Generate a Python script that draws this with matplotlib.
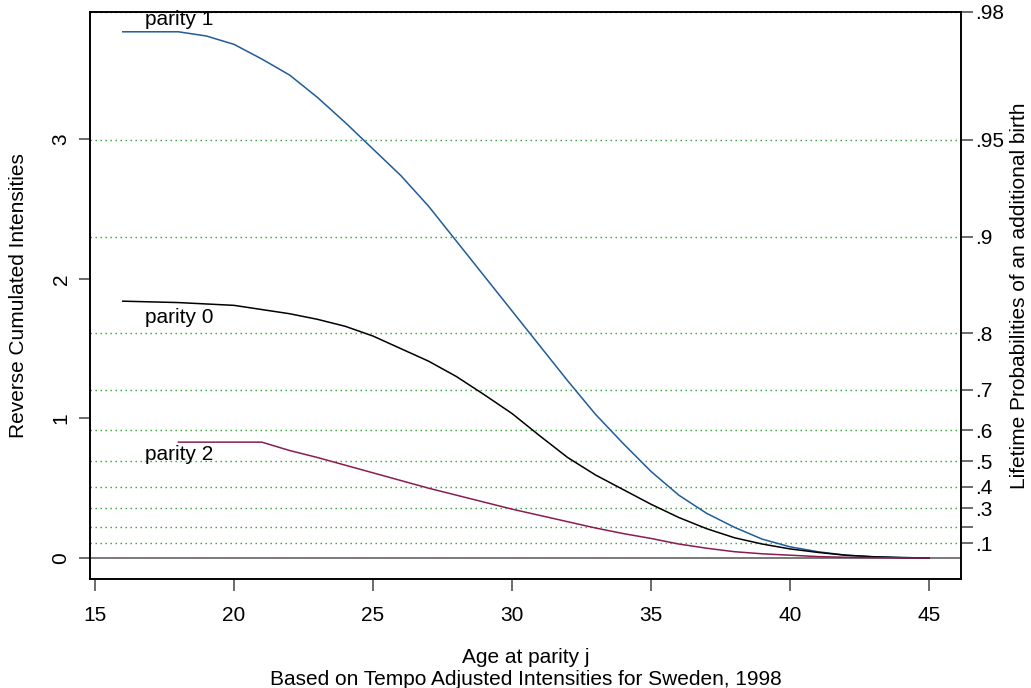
import matplotlib
matplotlib.use("Agg")
import matplotlib.pyplot as plt
import numpy as np

plt.rcParams['font.family'] = ['Liberation Sans', 'DejaVu Sans']

# reverse cumulated intensities by age
age_p0 = [16, 17, 18, 19, 20, 21, 22, 23, 24, 25, 26, 27, 28, 29, 30,
          31, 32, 33, 34, 35, 36, 37, 38, 39, 40, 41, 42, 43, 44, 45]
parity0 = [1.84, 1.835, 1.83, 1.82, 1.81, 1.78, 1.75, 1.71, 1.66, 1.59, 1.50, 1.41, 1.30, 1.17, 1.035,
           0.875, 0.72, 0.595, 0.49, 0.385, 0.29, 0.21, 0.145, 0.10, 0.065, 0.04, 0.02, 0.009, 0.003, 0.0]

age_p1 = age_p0
parity1 = [3.77, 3.77, 3.77, 3.74, 3.68, 3.575, 3.46, 3.30, 3.12, 2.93, 2.74, 2.52, 2.27, 2.02, 1.77,
           1.52, 1.27, 1.03, 0.82, 0.62, 0.45, 0.32, 0.22, 0.135, 0.08, 0.045, 0.02, 0.008, 0.003, 0.0]

age_p2 = [18, 19, 20, 21, 22, 23, 24, 25, 26, 27, 28, 29, 30,
          31, 32, 33, 34, 35, 36, 37, 38, 39, 40, 41, 42, 43, 44, 45]
parity2 = [0.83, 0.83, 0.83, 0.83, 0.77, 0.72, 0.665, 0.61, 0.555, 0.50, 0.45, 0.40, 0.35,
           0.305, 0.26, 0.215, 0.175, 0.14, 0.10, 0.07, 0.045, 0.03, 0.02, 0.01, 0.005, 0.002, 0.001, 0.0]

# right axis: lifetime probabilities, placed at -ln(1-p)
probs = [.1, .2, .3, .4, .5, .6, .7, .8, .9, .95, .98]
prob_labels = ['.1', '', '.3', '.4', '.5', '.6', '.7', '.8', '.9', '.95', '.98']

left_ticks = [0, 1, 2, 3]
x_ticks = [15, 20, 25, 30, 35, 40, 45]

fs = 15

fig = plt.figure(figsize=(10.31, 6.88), dpi=100)
ax = fig.add_axes([0.0873, 0.1584, 0.8448, 0.8242])

prob_pos = -np.log(1 - np.array(probs))
for y in prob_pos:
    ax.axhline(y, color='#2ca02c', lw=1.0, ls=(0, (1, 2.6)), zorder=1)
ax.axhline(0, color='#555555', lw=1.1, zorder=2)

ax.plot(age_p1, parity1, color='#1f5c99', lw=1.1, zorder=3)
ax.plot(age_p0, parity0, color='black', lw=1.1, zorder=3)
ax.plot(age_p2, parity2, color='#8b1c50', lw=1.1, zorder=3)

ax.text(16.8, 3.86, 'parity 1', fontsize=fs, va='center', ha='left')
ax.text(16.8, 1.72, 'parity 0', fontsize=fs, va='center', ha='left')
ax.text(16.8, 0.74, 'parity 2', fontsize=fs, va='center', ha='left')

ax.set_xlim(14.82, 46.15)
ax.set_ylim(-0.1507, -np.log(0.02))

ax.set_xticks(x_ticks)
ax.set_yticks(left_ticks)
ax.set_yticklabels([str(t) for t in left_ticks], rotation=90, va='center')
ax.tick_params(axis='x', direction='out', length=8.5, width=1.1, pad=11, labelsize=fs, color='#444444')
ax.tick_params(axis='y', direction='out', length=8, width=1.1, pad=6, labelsize=fs, color='#444444')
for s in ax.spines.values():
    s.set_linewidth(1.2)

ax2 = ax.twinx()
ax2.set_ylim(ax.get_ylim())
ax2.set_yticks(prob_pos)
ax2.set_yticklabels(prob_labels)
ax2.tick_params(axis='y', direction='out', length=8.5, width=1.1, pad=1.5, labelsize=fs, color='#444444')
for s in ax2.spines.values():
    s.set_linewidth(1.2)

fig.text(0.0175, 0.57, 'Reverse Cumulated Intensities', fontsize=fs, rotation=90,
         ha='center', va='center')
fig.text(0.989, 0.57, 'Lifetime Probabilities of an additional birth', fontsize=fs, rotation=90,
         ha='center', va='center')

fig.text(0.5097, 0.045, 'Age at parity j', fontsize=fs, ha='center', va='center')
fig.text(0.5097, 0.013, 'Based on Tempo Adjusted Intensities for Sweden, 1998', fontsize=fs,
         ha='center', va='center')

fig.savefig('out.png', dpi=100)
